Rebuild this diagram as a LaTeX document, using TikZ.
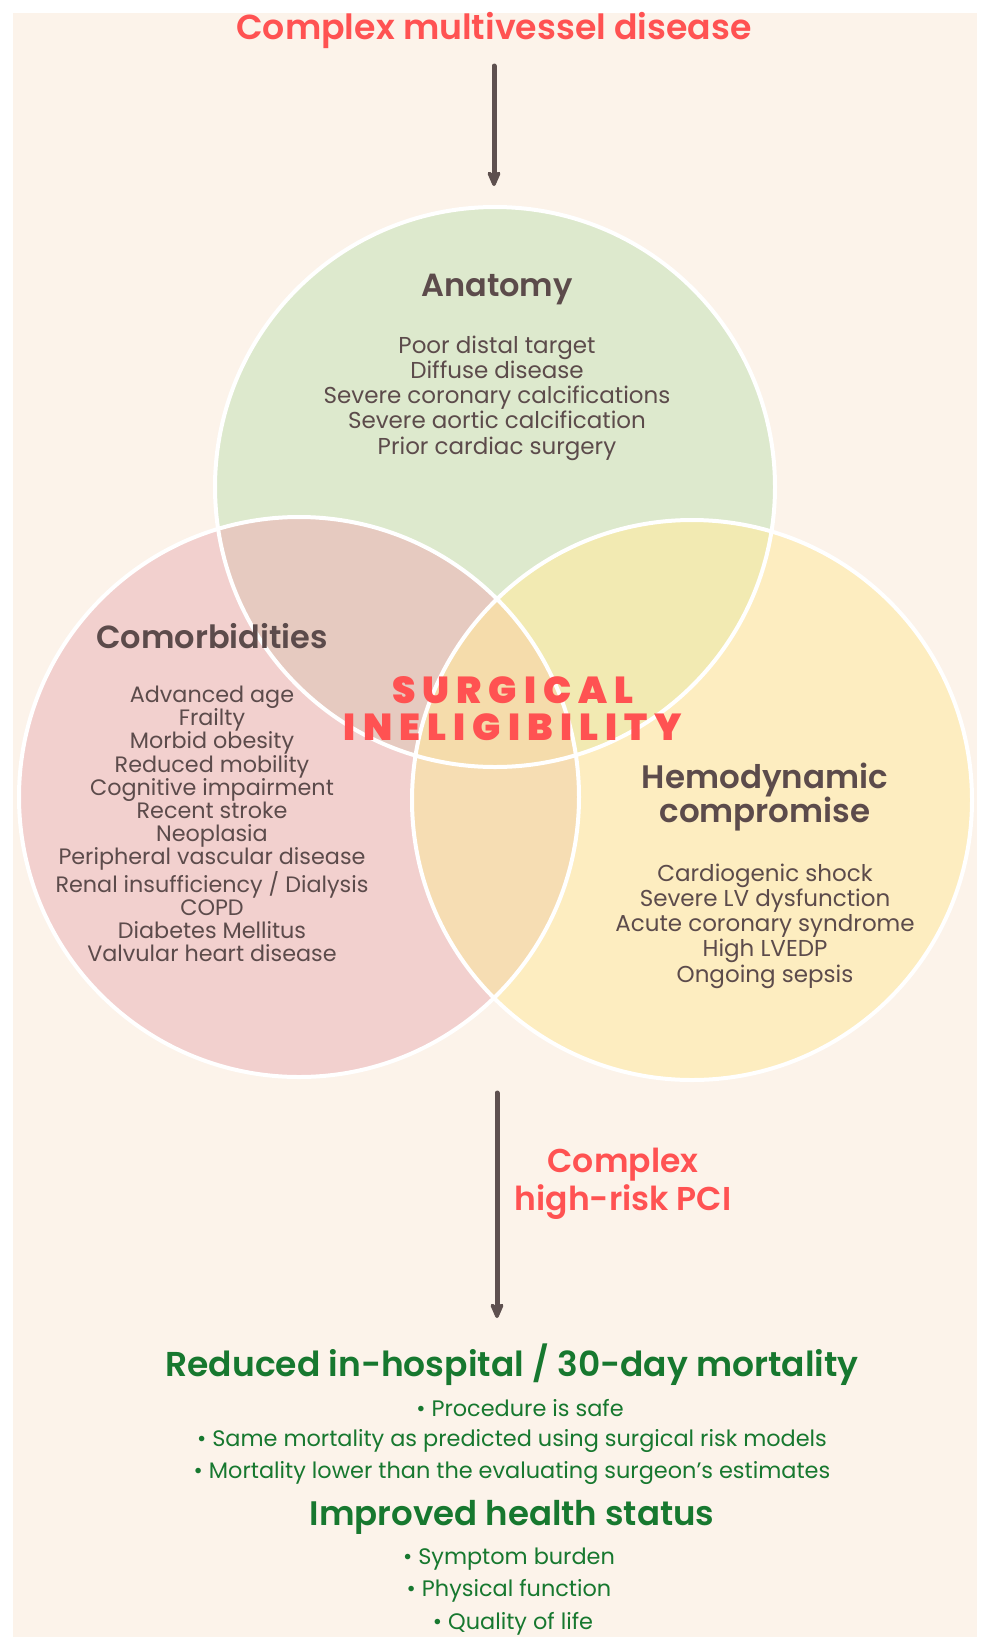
\documentclass[tikz,border=0pt]{standalone}
\usepackage{fontspec}
\setmainfont{Poppins}[BoldFont={Poppins SemiBold}]
\newfontfamily\heavyfont{Poppins Black}
\usetikzlibrary{arrows.meta}
\definecolor{bg}{HTML}{FCF3EA}
\definecolor{cgreen}{HTML}{DDE9CD}
\definecolor{cpink}{HTML}{F2D0CE}
\definecolor{cyellow}{HTML}{FDEDC0}
\definecolor{cgp}{HTML}{E6CAC0}
\definecolor{cgy}{HTML}{F2EAB2}
\definecolor{cpy}{HTML}{F6DDB3}
\definecolor{call}{HTML}{F5DCAB}
\definecolor{ink}{HTML}{5C4B4B}
\definecolor{redt}{HTML}{FF5252}
\definecolor{greent}{HTML}{17782F}
\definecolor{arrowc}{HTML}{5E504F}
\tikzset{
  arr/.style={draw=arrowc, line width=5pt, line cap=round,
    -{Stealth[length=20pt, width=17pt, inset=6pt, round]}},
  head/.style={text=ink, font=\fontsize{32}{34}\selectfont\bfseries, align=center, inner sep=0pt},
  items/.style={text=ink, font=\fontsize{23}{25.3}\selectfont, align=center, inner sep=0pt},
  citems/.style={text=ink, font=\fontsize{22.3}{23.1}\selectfont, align=center, inner sep=0pt},
  redtitle/.style={text=redt, font=\fontsize{34.7}{38}\selectfont\bfseries, align=center, inner sep=0pt},
  gtitle/.style={text=greent, font=\fontsize{34.5}{38}\selectfont\bfseries, inner sep=0pt},
  gitem/.style={text=greent, font=\fontsize{22.4}{25}\selectfont, inner sep=0pt},
  ring/.style={draw=white, line width=4pt}
}
\begin{document}
\begin{tikzpicture}[x=1pt,y=-1pt]
\useasboundingbox (0,0) rectangle (992,1649);
\fill[white] (0,0) rectangle (992,1649);
\fill[bg] (13,13) rectangle (977,1637);
% circle centres
\coordinate (A) at (495,487);
\coordinate (C) at (299,797);
\coordinate (H) at (692,800);
\def\R{280pt}
\fill[cgreen] (A) circle[radius=\R];
\fill[cpink] (C) circle[radius=\R];
\fill[cyellow] (H) circle[radius=\R];
\begin{scope}
  \clip (A) circle[radius=\R];
  \fill[cgp] (C) circle[radius=\R];
  \fill[cgy] (H) circle[radius=\R];
\end{scope}
\begin{scope}
  \clip (C) circle[radius=\R];
  \fill[cpy] (H) circle[radius=\R];
  \clip (H) circle[radius=\R];
  \fill[call] (A) circle[radius=\R];
\end{scope}
\draw[ring] (A) circle[radius=\R];
\draw[ring] (C) circle[radius=\R];
\draw[ring] (H) circle[radius=\R];
% top title and arrow
\node[redtitle] (title) at (494,30) {Complex multivessel disease};
\coordinate (t1) at (494,66);
\coordinate (t2) at (494,186);
\draw[arr] (t1) -- (t2);
% anatomy
\node[head] (anat) at (497,290) {Anatomy};
\node[items] (anatitems) at (497,398) {Poor distal target\\Diffuse disease\\Severe coronary calcifications\\Severe aortic calcification\\Prior cardiac surgery};
% comorbidities
\node[head] (comor) at (212,636) {Comorbidities};
\node[citems] (comoritems) at (212,824) {Advanced age\\Frailty\\Morbid obesity\\Reduced mobility\\Cognitive impairment\\Recent stroke\\Neoplasia\\Peripheral vascular disease\\Renal insufficiency / Dialysis\\COPD\\Diabetes Mellitus\\Valvular heart disease};
% hemodynamic
\node[head, font=\fontsize{32.5}{34}\selectfont\bfseries] (hemo) at (765,797) {Hemodynamic\\compromise};
\node[items] (hemoitems) at (765,926) {Cardiogenic shock\\Severe LV dysfunction\\Acute coronary syndrome\\High LVEDP\\Ongoing sepsis};
% surgical ineligibility
\node[text=redt, inner sep=0pt, align=center,
  font=\fontsize{37.5}{37}\heavyfont\addfontfeatures{LetterSpace=19}] (surg) at (513,709) {SURGICAL\\INELIGIBILITY};
% bottom arrow
\coordinate (b1) at (497,1093);
\coordinate (b2) at (497,1318);
\draw[arr] (b1) -- (b2);
\node[redtitle, font=\fontsize{33}{38}\selectfont\bfseries] (pci) at (623,1184) {Complex\\high-risk PCI};
% outcomes
\node[gtitle] (res1) at (512,1365) {Reduced in-hospital / 30-day mortality};
\node[gitem] (o1) at (520,1408) {• Procedure is safe};
\node[gitem] (o2) at (512,1441) {• Same mortality as predicted using surgical risk models};
\node[gitem] (o3) at (512,1473) {• Mortality lower than the evaluating surgeon’s estimates};
\node[gtitle, font=\fontsize{34}{38}\selectfont\bfseries] (res2) at (512,1517) {Improved health status};
\node[gitem] (o4) at (509,1559) {• Symptom burden};
\node[gitem] (o5) at (509,1591) {• Physical function};
\node[gitem] (o6) at (513,1624) {• Quality of life};
\end{tikzpicture}
\end{document}
